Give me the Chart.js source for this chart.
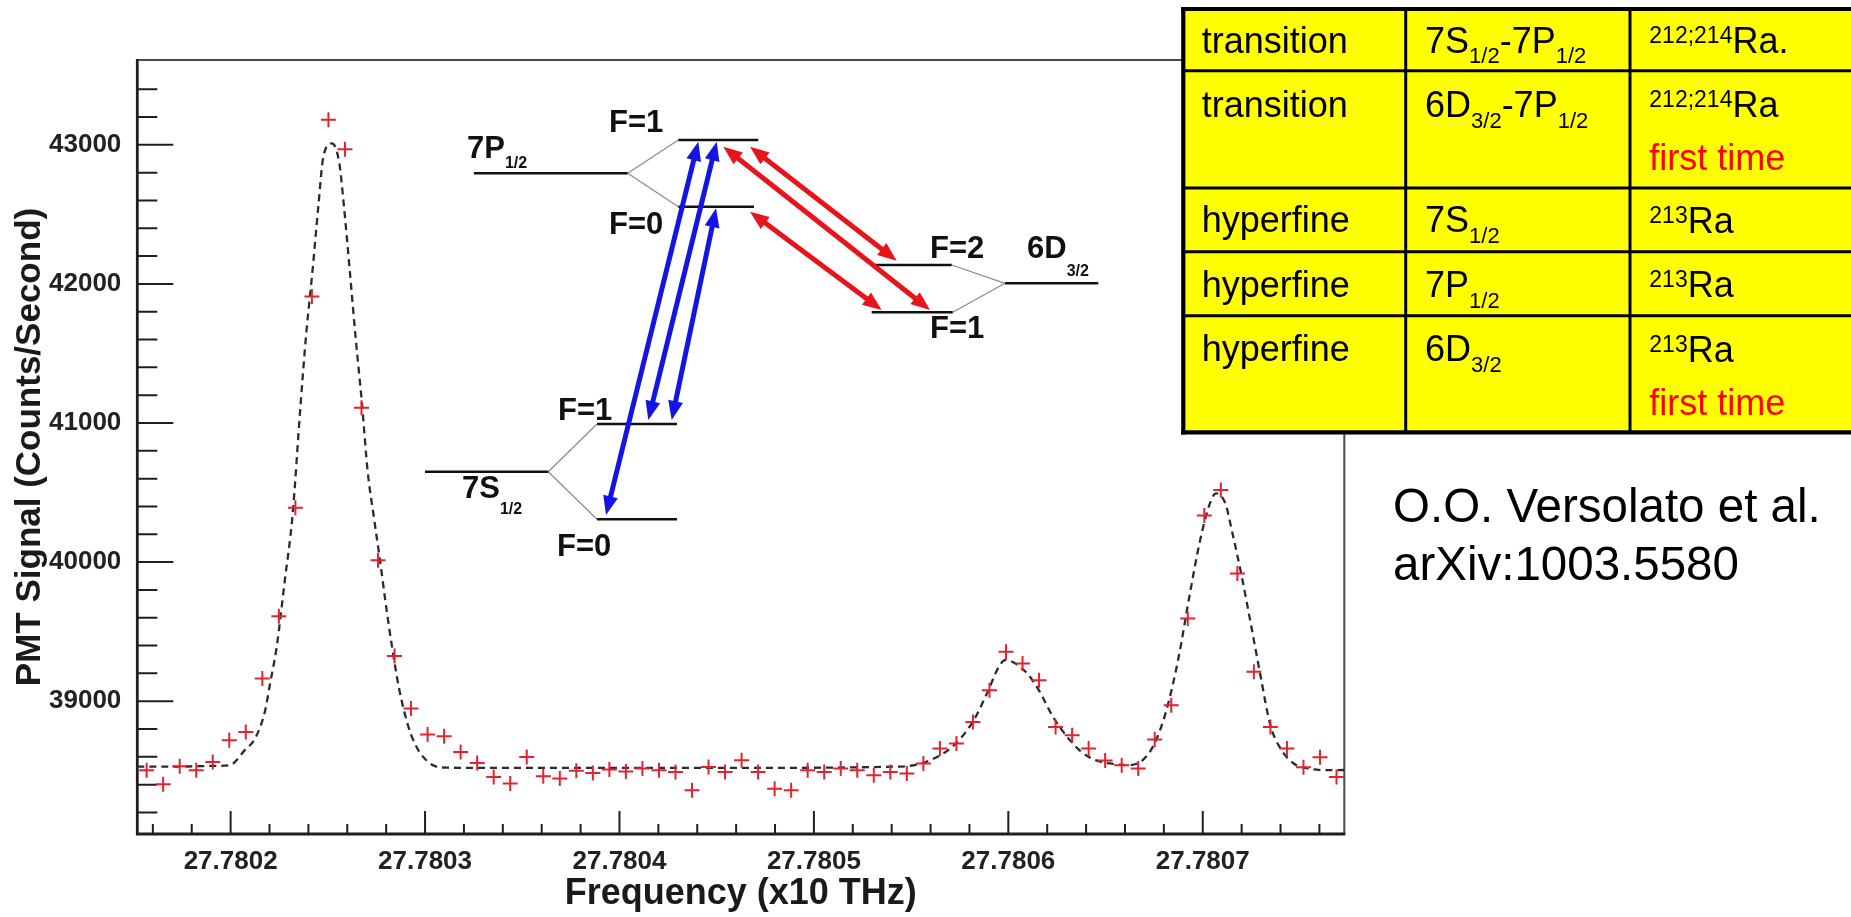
<!DOCTYPE html>
<html>
<head>
<meta charset="utf-8">
<title>PMT signal vs frequency – Ra transitions</title>
<script src="https://cdn.jsdelivr.net/npm/chart.js@4.4.1/dist/chart.umd.min.js"></script>
<style>
  html, body { margin: 0; padding: 0; background: #fff; }
  #wrap { position: relative; width: 1851px; height: 917px; overflow: hidden; }
  #plot { position: absolute; left: 0; top: 0; }
  #overlay { position: absolute; left: 0; top: 0; pointer-events: none; }
  #overlay text { font-family: "Liberation Sans", Arial, Helvetica, sans-serif; }
</style>
</head>
<body>
<div id="wrap">
  <canvas id="plot" width="1851" height="917"></canvas>
  <svg id="overlay" width="1851" height="917" xmlns="http://www.w3.org/2000/svg">
    <!-- level scheme -->
    <g id="levels" stroke-linecap="butt">
      <g stroke="#8c8c8c" stroke-width="1.3">
        <line x1="627.7" y1="173.3" x2="678.3" y2="140"/>
        <line x1="627.7" y1="173.3" x2="678.3" y2="206.7"/>
        <line x1="548.3" y1="471.7" x2="597" y2="424"/>
        <line x1="548.3" y1="471.7" x2="597" y2="519.3"/>
        <line x1="951.7" y1="265" x2="1005" y2="283.3"/>
        <line x1="952.7" y1="312.3" x2="1005" y2="283.3"/>
      </g>
      <g stroke="#111" stroke-width="2.6">
        <line x1="474" y1="173.3" x2="627.7" y2="173.3"/>
        <line x1="678.3" y1="140" x2="758.3" y2="140"/>
        <line x1="678.3" y1="206.7" x2="754" y2="206.7"/>
        <line x1="425" y1="471.7" x2="548.3" y2="471.7"/>
        <line x1="597" y1="424" x2="677" y2="424"/>
        <line x1="597" y1="519.3" x2="677" y2="519.3"/>
        <line x1="875" y1="265" x2="951.7" y2="265"/>
        <line x1="871.7" y1="312.3" x2="952.7" y2="312.3"/>
        <line x1="1005" y1="283.3" x2="1098.3" y2="283.3"/>
      </g>
      <g id="arrows"></g>
      <g font-weight="bold" fill="#111" font-size="31">
        <text x="467" y="158">7P<tspan font-size="16" dy="10">1/2</tspan></text>
        <text x="609" y="131.7">F=1</text>
        <text x="609" y="234">F=0</text>
        <text x="558" y="420">F=1</text>
        <text x="462" y="498.3">7S<tspan font-size="16" dy="16">1/2</tspan></text>
        <text x="557" y="556">F=0</text>
        <text x="930" y="258.3">F=2</text>
        <text x="1027" y="258.3">6D<tspan font-size="16" dy="18">3/2</tspan></text>
        <text x="930" y="338">F=1</text>
      </g>
    </g>

    <!-- summary table -->
    <g id="table">
      <rect x="1183" y="9" width="668" height="423.3" fill="#ffff00"/>
      <g stroke="#000" stroke-width="3">
        <line x1="1405.7" y1="9" x2="1405.7" y2="432.3"/>
        <line x1="1630" y1="9" x2="1630" y2="432.3"/>
        <line x1="1183" y1="70.7" x2="1851" y2="70.7"/>
        <line x1="1183" y1="188" x2="1851" y2="188"/>
        <line x1="1183" y1="251.7" x2="1851" y2="251.7"/>
        <line x1="1183" y1="315.7" x2="1851" y2="315.7"/>
      </g>
      <g stroke="#000" stroke-width="4.2">
        <line x1="1183.3" y1="7" x2="1183.3" y2="434.5"/>
        <line x1="1181.2" y1="9" x2="1851" y2="9"/>
        <line x1="1181.2" y1="432.4" x2="1851" y2="432.4"/>
      </g>
      <g font-size="36" fill="#000">
        <text x="1201.7" y="53.3">transition</text>
        <text x="1201.7" y="116.7">transition</text>
        <text x="1201.7" y="231.7">hyperfine</text>
        <text x="1201.7" y="296.7">hyperfine</text>
        <text x="1201.7" y="361">hyperfine</text>

        <text x="1425" y="53.3">7S<tspan font-size="22" dy="10">1/2</tspan><tspan dy="-10">-7P</tspan><tspan font-size="22" dy="10">1/2</tspan></text>
        <text x="1425" y="116.7">6D<tspan font-size="22" dy="11">3/2</tspan><tspan dy="-11">-7P</tspan><tspan font-size="22" dy="11">1/2</tspan></text>
        <text x="1425" y="231.7">7S<tspan font-size="22" dy="11">1/2</tspan></text>
        <text x="1425" y="296.7">7P<tspan font-size="22" dy="11">1/2</tspan></text>
        <text x="1425" y="361">6D<tspan font-size="22" dy="11">3/2</tspan></text>

        <text x="1649.3" y="53.3"><tspan font-size="23" dy="-10">212;214</tspan><tspan dy="10">Ra.</tspan></text>
        <text x="1649.3" y="116.7"><tspan font-size="23" dy="-10">212;214</tspan><tspan dy="10">Ra</tspan></text>
        <text x="1649.3" y="170" fill="#ff0000">first time</text>
        <text x="1649.3" y="232.5"><tspan font-size="23" dy="-10">213</tspan><tspan dy="10">Ra</tspan></text>
        <text x="1649.3" y="296.7"><tspan font-size="23" dy="-10">213</tspan><tspan dy="10">Ra</tspan></text>
        <text x="1649.3" y="361.5"><tspan font-size="23" dy="-10">213</tspan><tspan dy="10">Ra</tspan></text>
        <text x="1649.3" y="415" fill="#ff0000">first time</text>
      </g>
    </g>

    <!-- reference -->
    <g font-size="47.5" fill="#000">
      <text x="1393" y="521.7">O.O. Versolato et al.</text>
      <text x="1393" y="580">arXiv:1003.5580</text>
    </g>
  </svg>
</div>

<script>
// Measured PMT signal (counts/s) versus laser frequency (units of 10 THz)
const frequency = [
  27.7801568, 27.7801653, 27.7801738, 27.7801823, 27.7801908, 27.7801993, 27.7802078, 27.7802163,
  27.7802248, 27.7802333, 27.7802418, 27.7802503, 27.7802588, 27.7802673, 27.7802758, 27.7802843,
  27.7802928, 27.7803013, 27.7803098, 27.7803183, 27.7803268, 27.7803353, 27.7803438, 27.7803523,
  27.7803608, 27.7803693, 27.7803778, 27.7803863, 27.7803948, 27.7804033, 27.7804118, 27.7804203,
  27.7804288, 27.7804373, 27.7804458, 27.7804543, 27.7804628, 27.7804713, 27.7804798, 27.7804883,
  27.7804968, 27.7805053, 27.7805138, 27.7805223, 27.7805308, 27.7805393, 27.7805478, 27.7805563,
  27.7805648, 27.7805733, 27.7805818, 27.7805903, 27.7805988, 27.7806073, 27.7806158, 27.7806243,
  27.7806328, 27.7806413, 27.7806498, 27.7806583, 27.7806668, 27.7806753, 27.7806838, 27.7806923,
  27.7807008, 27.7807093, 27.7807178, 27.7807263, 27.7807348, 27.7807433, 27.7807518, 27.7807603,
  27.7807688
];
const pmtSignal = [
  38504, 38403, 38532, 38504, 38563, 38719, 38779, 39163,
  39611, 40391, 41909, 43180, 42969, 41110, 40014, 39325,
  38947, 38760, 38748, 38635, 38556, 38455, 38408, 38599,
  38460, 38444, 38499, 38484, 38508, 38495, 38516, 38504,
  38491, 38360, 38527, 38491, 38576, 38491, 38371, 38360,
  38504, 38491, 38516, 38504, 38468, 38491, 38480, 38552,
  38660, 38696, 38851, 39079, 39355, 39271, 39151, 38815,
  38755, 38660, 38573, 38540, 38516, 38725, 38971, 39595,
  40335, 40518, 39918, 39211, 38815, 38660, 38525, 38597,
  38455
];

// Fitted line shape (dashed curve)
const fitFrequency = [
  27.780152, 27.7801739, 27.7801919, 27.7801996, 27.7802074, 27.7802125, 27.7802177, 27.7802202,
  27.7802237, 27.7802278, 27.7802318, 27.7802359, 27.7802389, 27.780242, 27.7802451, 27.7802477,
  27.7802521, 27.7802559, 27.7802583, 27.7802614, 27.7802644, 27.7802674, 27.7802705, 27.7802736,
  27.7802766, 27.7802796, 27.7802827, 27.7802868, 27.7802928, 27.780301, 27.7803113, 27.78035,
  27.78045, 27.7805443, 27.7805599, 27.780572, 27.7805817, 27.780589, 27.7805951, 27.7805983,
  27.7806036, 27.7806097, 27.7806157, 27.780623, 27.7806303, 27.7806376, 27.7806449, 27.7806522,
  27.7806618, 27.7806691, 27.7806752, 27.7806813, 27.7806873, 27.7806934, 27.7806983, 27.7807031,
  27.7807068, 27.7807116, 27.7807153, 27.7807201, 27.780725, 27.7807298, 27.7807347, 27.7807395,
  27.7807468, 27.7807541, 27.7807638, 27.7807728
];
const fitSignal = [
  38530, 38530, 38535, 38540, 38650, 38730, 38930, 39120,
  39391, 39860, 40330, 41117, 41645, 42077, 42556, 42916,
  43010, 42868, 42556, 42077, 41597, 41165, 40650, 40330,
  40036, 39720, 39420, 39080, 38760, 38570, 38522, 38520,
  38520, 38530, 38576, 38683, 38851, 39055, 39247, 39295,
  39271, 39199, 39079, 38887, 38743, 38635, 38576, 38552,
  38540, 38576, 38696, 38935, 39295, 39775, 40135, 40398,
  40494, 40422, 40206, 39894, 39535, 39175, 38830, 38671,
  38552, 38516, 38504, 38505
];

// Axis ranges and tick labels
const xRange = [27.780152, 27.7807728];
const yRange = [38045, 43610];
const xTickLabels = ['27.7802', '27.7803', '27.7804', '27.7805', '27.7806', '27.7807'];
const yTickLabels = ['39000', '40000', '41000', '42000', '43000'];
const xMinorStep = 0.00002;
const yMinorStep = 200;

const FONT = '"Liberation Sans", Arial, Helvetica, sans-serif';

function buildTicks(scale, labels, step) {
  const first = Number(labels[0]);
  const ticks = [];
  const kStart = Math.ceil((scale.min - first) / step - 1e-6);
  for (let k = kStart; ; k++) {
    const v = first + k * step;
    if (v > scale.max - step * 0.1) break;
    ticks.push({ value: v });
  }
  scale.ticks = ticks;
}
function majorLabel(value, labels, step) {
  const hit = labels.find(l => Math.abs(Number(l) - value) < step * 1e-3);
  return hit === undefined ? '' : hit;
}

// Frame plus inward-pointing tick marks, ROOT style
const frameAndTicks = {
  id: 'frameAndTicks',
  beforeDatasetsDraw(chart) {
    const { ctx, chartArea: a, scales: { x, y } } = chart;
    ctx.save();
    ctx.lineCap = 'butt';
    ctx.strokeStyle = '#4a4a4a';
    ctx.lineWidth = 2;
    ctx.beginPath();
    ctx.moveTo(a.left, a.top);
    ctx.lineTo(a.right, a.top);
    ctx.lineTo(a.right, a.bottom);
    ctx.stroke();

    ctx.strokeStyle = '#1e1e1e';
    ctx.lineWidth = 2;
    ctx.beginPath();
    x.ticks.forEach(t => {
      const px = x.getPixelForValue(t.value);
      const len = majorLabel(t.value, xTickLabels, xMinorStep) ? 23 : 10;
      ctx.moveTo(px, a.bottom);
      ctx.lineTo(px, a.bottom - len);
    });
    y.ticks.forEach(t => {
      const py = y.getPixelForValue(t.value);
      const len = majorLabel(t.value, yTickLabels, yMinorStep) ? 36 : 20;
      ctx.moveTo(a.left, py);
      ctx.lineTo(a.left + len, py);
    });
    ctx.stroke();

    ctx.lineWidth = 2.8;
    ctx.beginPath();
    ctx.moveTo(a.left, a.top - 1);
    ctx.lineTo(a.left, a.bottom);
    ctx.lineTo(a.right + 1, a.bottom);
    ctx.stroke();
    ctx.restore();
  }
};

new Chart(document.getElementById('plot'), {
  type: 'scatter',
  data: {
    datasets: [
      {
        label: 'data',
        data: frequency.map((f, i) => ({ x: f, y: pmtSignal[i] })),
        pointStyle: 'cross',
        pointRadius: 7.5,
        pointHoverRadius: 7.5,
        borderColor: 'rgb(228, 34, 46)',
        backgroundColor: 'rgb(228, 34, 46)',
        pointBorderWidth: 2,
        showLine: false
      },
      {
        type: 'line',
        label: 'fit',
        data: fitFrequency.map((f, i) => ({ x: f, y: fitSignal[i] })),
        borderColor: '#2b2b2b',
        borderWidth: 2.3,
        borderDash: [7, 5],
        pointRadius: 0,
        fill: false,
        cubicInterpolationMode: 'monotone'
      }
    ]
  },
  options: {
    responsive: false,
    animation: false,
    devicePixelRatio: 1,
    layout: { padding: { left: 0, top: 60, right: 506.7, bottom: 0 } },
    plugins: { legend: { display: false }, tooltip: { enabled: false } },
    scales: {
      x: {
        type: 'linear',
        min: xRange[0],
        max: xRange[1],
        grid: { display: false },
        border: { display: false },
        afterBuildTicks: s => buildTicks(s, xTickLabels, xMinorStep),
        afterFit: s => { s.height = 83; },
        ticks: {
          autoSkip: false,
          maxRotation: 0,
          minRotation: 0,
          padding: 4,
          color: '#222',
          font: { family: FONT, size: 26, weight: 'bold' },
          callback: v => majorLabel(v, xTickLabels, xMinorStep)
        },
        title: {
          display: true,
          text: 'Frequency (x10 THz)',
          color: '#1a1a1a',
          font: { family: FONT, size: 36, weight: 'bold' },
          padding: { top: 0, bottom: 1.5 }
        }
      },
      y: {
        type: 'linear',
        min: yRange[0],
        max: yRange[1],
        grid: { display: false },
        border: { display: false },
        afterBuildTicks: s => buildTicks(s, yTickLabels, yMinorStep),
        afterFit: s => { s.width = 137.3; },
        ticks: {
          autoSkip: false,
          padding: 8,
          color: '#222',
          font: { family: FONT, size: 26, weight: 'bold' },
          callback: v => majorLabel(v, yTickLabels, yMinorStep)
        },
        title: {
          display: true,
          text: 'PMT Signal (Counts/Second)',
          color: '#1a1a1a',
          font: { family: FONT, size: 35, weight: 'bold' },
          padding: { top: 9, bottom: 0 }
        }
      }
    }
  },
  plugins: [frameAndTicks]
});

// Double-headed arrows of the level scheme: [x1, y1, x2, y2, colour]
const arrowSpecs = [
  [606, 515, 698.3, 141.7, '#1414e6'],
  [648.3, 420, 716.7, 141.7, '#1414e6'],
  [671.7, 420, 716, 208.3, '#1414e6'],
  [750, 146.7, 896.7, 260.7, '#e8141c'],
  [723.3, 146.7, 930, 310, '#e8141c'],
  [750, 211.7, 881.7, 310, '#e8141c']
];
(function drawArrows() {
  const ns = 'http://www.w3.org/2000/svg';
  const g = document.getElementById('arrows');
  const headLen = 19, headHalf = 7.5, shaft = 5;
  arrowSpecs.forEach(([x1, y1, x2, y2, col]) => {
    const dx = x2 - x1, dy = y2 - y1, L = Math.hypot(dx, dy);
    const ux = dx / L, uy = dy / L, nx = -uy, ny = ux;
    const line = document.createElementNS(ns, 'line');
    line.setAttribute('x1', x1 + ux * (headLen - 2));
    line.setAttribute('y1', y1 + uy * (headLen - 2));
    line.setAttribute('x2', x2 - ux * (headLen - 2));
    line.setAttribute('y2', y2 - uy * (headLen - 2));
    line.setAttribute('stroke', col);
    line.setAttribute('stroke-width', shaft);
    g.appendChild(line);
    [[x1, y1, 1], [x2, y2, -1]].forEach(([tx, ty, s]) => {
      const bx = tx + s * ux * headLen, by = ty + s * uy * headLen;
      const p = document.createElementNS(ns, 'polygon');
      p.setAttribute('points',
        `${tx},${ty} ${bx + nx * headHalf},${by + ny * headHalf} ${bx - nx * headHalf},${by - ny * headHalf}`);
      p.setAttribute('fill', col);
      g.appendChild(p);
    });
  });
})();
</script>
</body>
</html>
